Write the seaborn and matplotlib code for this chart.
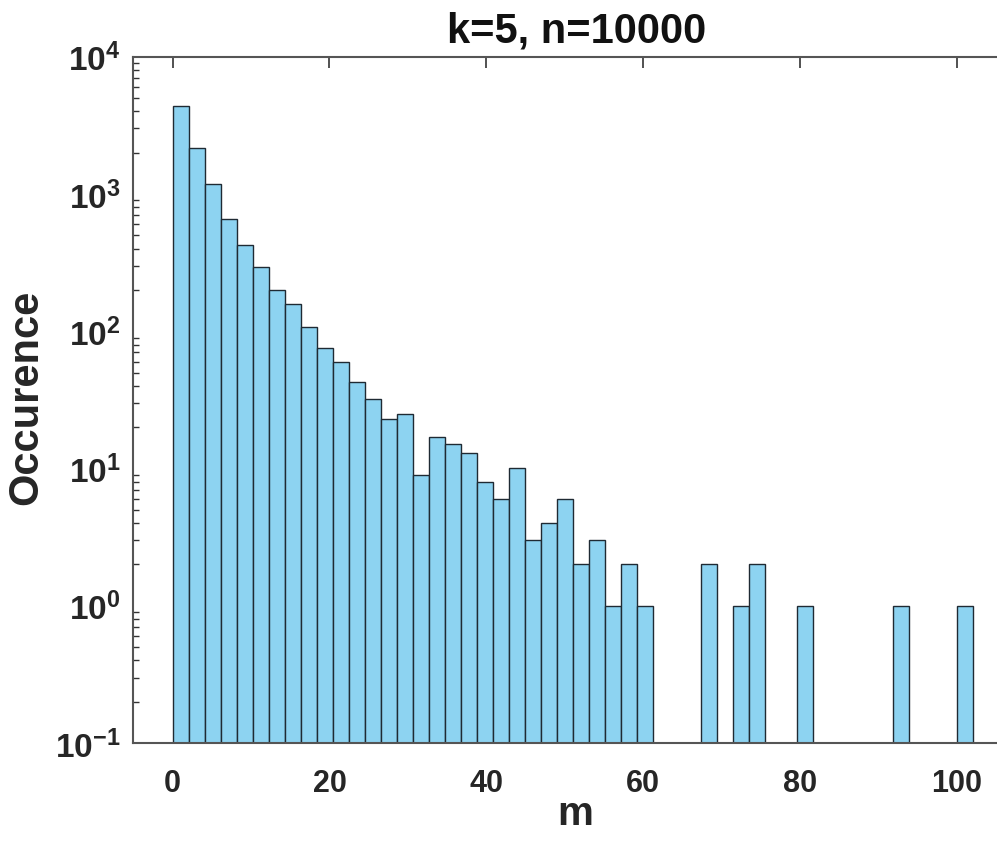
import numpy as np
import pandas as pd
import matplotlib
matplotlib.use('Agg')
import matplotlib.pyplot as plt
import seaborn as sns
from matplotlib.ticker import LogLocator, FuncFormatter, NullFormatter

# histogram of m (50 bins of width 2.04 from 0 to 102)
m_min, m_max, n_bins = 0, 102, 50
counts = [4385, 2157, 1192, 652, 424, 296, 201, 159, 108, 75,
          60, 43, 32, 23, 25, 9, 17, 15, 13, 8,
          6, 10, 3, 4, 6, 2, 3, 1, 2, 1,
          0, 0, 0, 2, 0, 1, 2, 0, 0, 1,
          0, 0, 0, 0, 0, 1, 0, 0, 0, 1]
x_ticks = [0, 20, 40, 60, 80, 100]

edges = np.linspace(m_min, m_max, n_bins + 1)
df = pd.DataFrame({'m': (edges[:-1] + edges[1:]) / 2, 'count': counts})

sns.set_style("white")
plt.rcParams['font.family'] = ['Liberation Sans', 'DejaVu Sans']
plt.rcParams['mathtext.fontset'] = 'custom'
plt.rcParams['mathtext.bf'] = 'Liberation Sans:bold'
plt.rcParams['mathtext.rm'] = 'Liberation Sans:bold'

fig = plt.figure(figsize=(9.97, 8.45), dpi=100)
ax = fig.add_axes([0.1337, 0.1195, 0.905, 0.8122])

sns.histplot(data=df, x='m', weights='count', bins=n_bins, binrange=(m_min, m_max),
             ax=ax, color='#8dd3f1', alpha=1, edgecolor='#1f2a33', linewidth=1.0)
ax.set_yscale('log')
ax.set_ylim(0.1, 1e4)
ax.set_xlim(-5, 110)

ax.set_xticks(x_ticks)
ax.yaxis.set_major_locator(LogLocator(base=10, numticks=10))
ax.yaxis.set_minor_locator(LogLocator(base=10, subs=np.arange(2, 10), numticks=10))
ax.yaxis.set_major_formatter(FuncFormatter(lambda v, p: r'$\mathbf{10^{%d}}$' % round(np.log10(v))))
ax.yaxis.set_minor_formatter(NullFormatter())

ax.tick_params(axis='both', which='major', direction='in', length=8, width=1.2,
               top=True, right=True, colors='#333333', labelcolor='#262626')
ax.tick_params(axis='x', which='major', pad=18, labelsize=22)
ax.tick_params(axis='y', which='major', pad=9, labelsize=24)
ax.tick_params(axis='y', which='minor', direction='in', length=4, width=1,
               right=True, left=True, colors='#333333')
for lab in ax.get_xticklabels():
    lab.set_fontweight('bold')

for s in ax.spines.values():
    s.set_color('#555555')
    s.set_linewidth(1.5)

ax.set_xlabel('m', fontsize=29, fontweight='bold', color='#262626', labelpad=-2)
ax.xaxis.set_label_coords(0.49, -0.075)
ax.set_ylabel('Occurence', fontsize=30, fontweight='bold', color='#262626')
ax.yaxis.set_label_coords(-0.097, 0.505)
ax.set_title('k=5, n=10000', fontsize=30, fontweight='bold', color='#111111', pad=11, x=0.491)

fig.savefig('out.png', dpi=100)
